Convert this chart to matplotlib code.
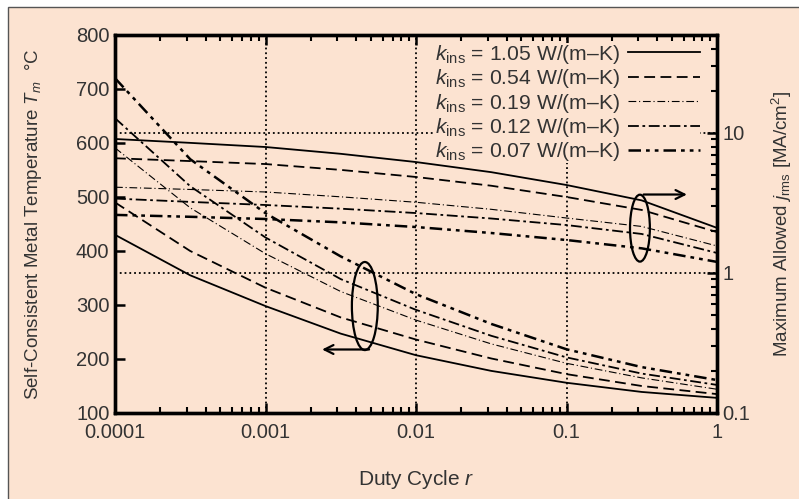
import numpy as np
import matplotlib.pyplot as plt
from matplotlib.patches import Ellipse, Rectangle

plt.rcParams['font.family'] = ['Liberation Sans', 'DejaVu Sans']
plt.rcParams['mathtext.fontset'] = 'custom'
plt.rcParams['mathtext.rm'] = 'Liberation Sans'
plt.rcParams['mathtext.it'] = 'Liberation Sans:italic'

# duty cycle grid (read positions)
r = [1e-4, 3.16e-4, 1e-3, 3.16e-3, 1e-2, 3.16e-2, 0.1, 0.316, 1.0]

k_labels = ['1.05', '0.54', '0.19', '0.12', '0.07']

# metal temperature, left axis [C]
T_105 = [430, 355, 298, 247, 207, 178, 156, 139, 128]
T_054 = [490, 400, 332, 277, 236, 201, 172, 150, 135]
T_019 = [591, 480, 395, 325, 272, 228, 192, 165, 144]
T_012 = [646, 520, 425, 348, 291, 243, 203, 173, 152]
T_007 = [720, 570, 470, 390, 320, 265, 218, 185, 161]

# max allowed j_rms, right axis [MA/cm^2]
j_105 = [9.06, 8.5, 7.94, 7.1, 6.2, 5.25, 4.25, 3.3, 2.10]
j_054 = [6.6, 6.3, 6.0, 5.45, 4.85, 4.2, 3.49, 2.82, 1.96]
j_019 = [4.1, 3.95, 3.79, 3.5, 3.2, 2.85, 2.47, 2.15, 1.56]
j_012 = [3.4, 3.22, 3.06, 2.88, 2.68, 2.45, 2.2, 1.9, 1.39]
j_007 = [2.6, 2.52, 2.43, 2.3, 2.13, 1.93, 1.72, 1.5, 1.2]

T_all = [T_105, T_054, T_019, T_012, T_007]
j_all = [j_105, j_054, j_019, j_012, j_007]

styles = ['-', (0, (6, 3)), (0, (7, 2.5, 1, 2.5)), (0, (6, 2, 1.5, 2)), (0, (5, 2, 1.5, 2, 1.5, 2))]
widths = [1.3, 1.3, 0.8, 1.3, 1.8]

bg = '#fce3d1'
ink = '#333333'

fig = plt.figure(figsize=(7.99, 4.99), dpi=100, facecolor='white')
fig.patches.append(Rectangle((8 / 799, -0.01), 1.0, 1 - 7 / 499 + 0.01, transform=fig.transFigure,
                             facecolor=bg, edgecolor='#555555', linewidth=1.0, zorder=-10))

ax = fig.add_axes([115 / 799, 86 / 499, 602 / 799, 378 / 499])
ax.set_facecolor(bg)
ax.set_xscale('log')
ax.set_xlim(1e-4, 1)
ax.set_ylim(100, 800)
ax.set_yticks(range(100, 801, 100))

ax2 = ax.twinx()
ax2.set_yscale('log')
ax2.set_ylim(0.1, 50.1)
ax2.set_yticks([0.1, 1, 10])
ax2.set_yticklabels(['0.1', '1', '10'])

# grid: x decades and right-axis decades
for xv in [1e-3, 1e-2, 1e-1]:
    ax.axvline(xv, color='black', linestyle=':', linewidth=1.3, zorder=1)
for yv in [1, 10]:
    ax2.axhline(yv, color='black', linestyle=':', linewidth=1.3, zorder=1)

handles = []
for i in range(5):
    h, = ax.plot(r, T_all[i], color='black', linestyle=styles[i], linewidth=widths[i])
    ax2.plot(r, j_all[i], color='black', linestyle=styles[i], linewidth=widths[i])
    handles.append(h)

ax.set_xticks([1e-4, 1e-3, 1e-2, 1e-1, 1])
ax.set_xticklabels(['0.0001', '0.001', '0.01', '0.1', '1'])

for a in (ax, ax2):
    for s in a.spines.values():
        s.set_linewidth(2.4)
ax.tick_params(axis='both', which='major', direction='in', length=7, width=1.8,
               labelsize=14.5, labelcolor=ink, top=True, pad=4)
ax.tick_params(axis='x', which='major', pad=7)
ax.tick_params(axis='x', which='minor', direction='in', length=4, width=1.5, top=True)
ax.tick_params(axis='y', which='minor', left=False)
ax2.tick_params(axis='y', which='major', direction='in', length=7, width=1.8,
                labelsize=14.5, labelcolor=ink, pad=4)
ax2.tick_params(axis='y', which='minor', direction='in', length=4, width=1.5)

ax.set_xlabel('Duty Cycle $r$', fontsize=15, color=ink)
ax.set_ylabel('Self-Consistent Metal Temperature $T_m$  °C', fontsize=13.5, color=ink)
ax2.set_ylabel(r'Maximum Allowed $j_{\mathrm{rms}}$ [MA/cm$^2$]', fontsize=13.5, color=ink,
               rotation=90)
ax.xaxis.set_label_coords(0.5, -0.146)
ax.yaxis.set_label_coords(-0.118, 0.5)
ax2.yaxis.set_label_coords(1.088, 0.5)

labels = [r'$k_{\mathrm{ins}}$ = ' + k + ' W/(m–K)' for k in k_labels]
leg = ax2.legend(handles, labels, loc='upper right', bbox_to_anchor=(0.972, 0.98), frameon=True,
                 markerfirst=False, handlelength=3.4, fontsize=15.2, labelspacing=0.07,
                 handletextpad=0.4, borderaxespad=0.0, borderpad=0.0)
leg.get_frame().set_facecolor(bg)
leg.get_frame().set_edgecolor('none')
leg.get_frame().set_alpha(1)
for t in leg.get_texts():
    t.set_color(ink)

# annotation ellipses and arrows
ax2.add_patch(Ellipse((0.415, 0.283), 0.043, 0.233, transform=ax.transAxes, fill=False,
                      edgecolor='black', linewidth=1.6, zorder=5))
ax2.add_patch(Ellipse((0.872, 0.489), 0.033, 0.177, transform=ax.transAxes, fill=False,
                      edgecolor='black', linewidth=1.6, zorder=5))
ax2.annotate('', xy=(0.344, 0.168), xytext=(0.422, 0.168), xycoords='axes fraction',
             arrowprops=dict(arrowstyle='->', color='black', lw=1.6, mutation_scale=16,
                             shrinkA=0, shrinkB=0))
ax2.annotate('', xy=(0.95, 0.578), xytext=(0.878, 0.578), xycoords='axes fraction',
             arrowprops=dict(arrowstyle='->', color='black', lw=1.6, mutation_scale=16,
                             shrinkA=0, shrinkB=0))

fig.savefig('out.png', dpi=100, facecolor=fig.get_facecolor())
